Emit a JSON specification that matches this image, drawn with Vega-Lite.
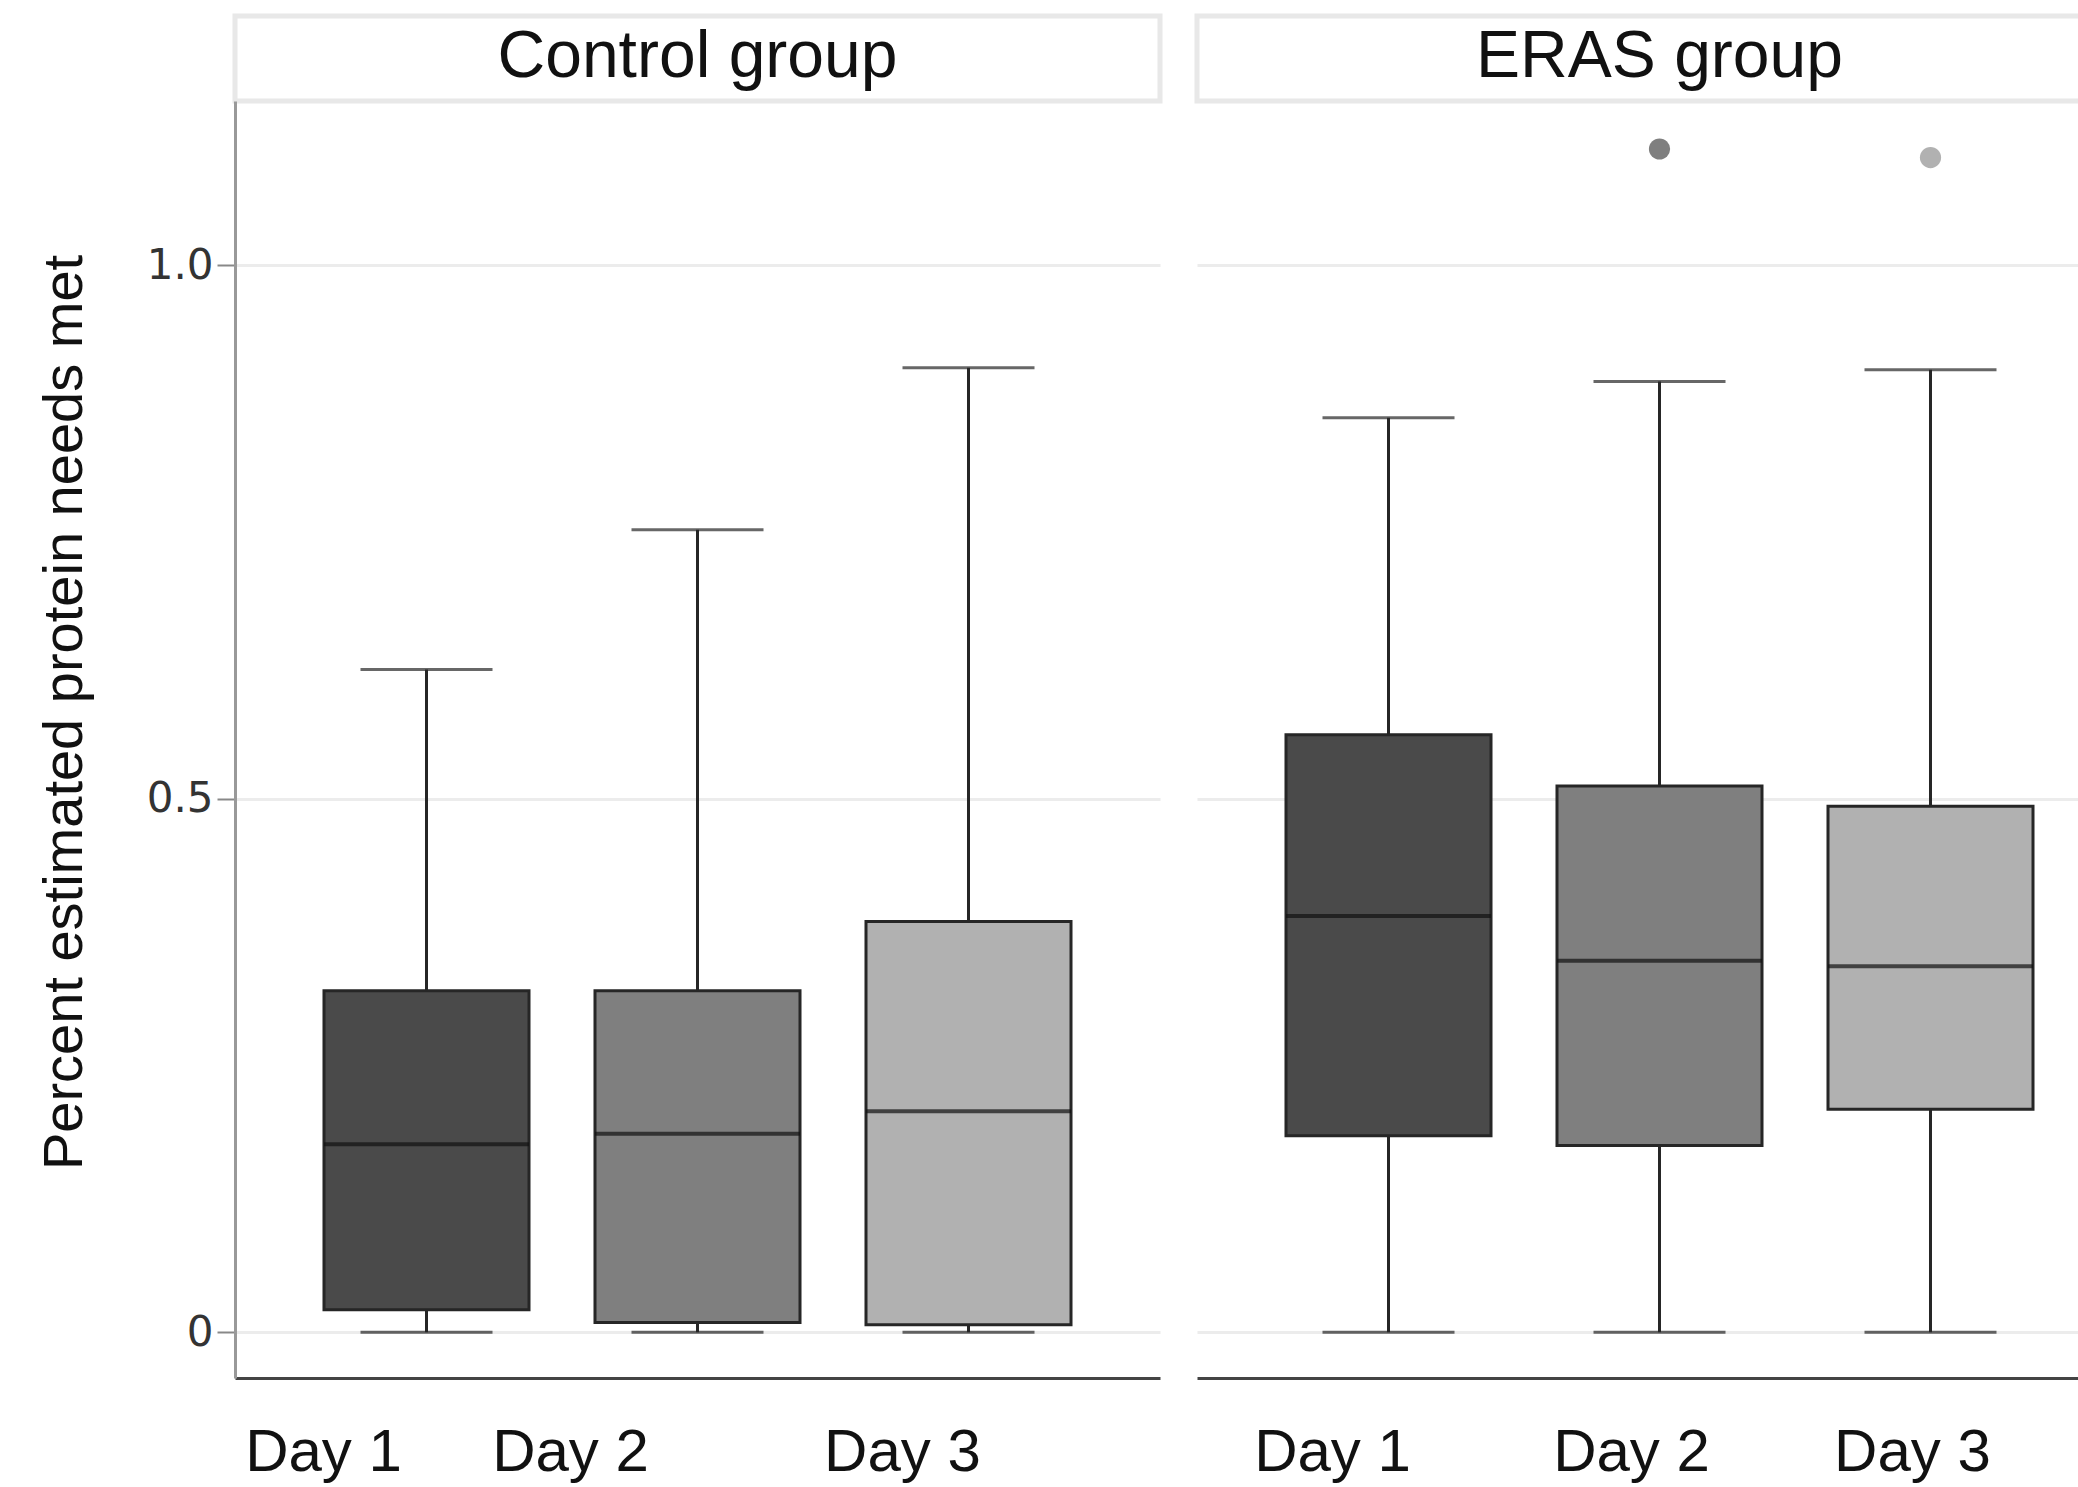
{
  "$schema": "https://vega.github.io/schema/vega-lite/v6.json",
  "background": "white",
  "padding": {"left": 36, "top": 13, "right": 0, "bottom": 5},
  "config": {"view": {"stroke": null}, "font": "Liberation Sans"},
  "datasets": {
    "stats": [
      {"group": "Control group", "day": "Day 1", "low": 0, "q1": 0.021, "median": 0.176, "q3": 0.32, "high": 0.621},
      {"group": "Control group", "day": "Day 2", "low": 0, "q1": 0.009, "median": 0.186, "q3": 0.32, "high": 0.752},
      {"group": "Control group", "day": "Day 3", "low": 0, "q1": 0.007, "median": 0.207, "q3": 0.385, "high": 0.904},
      {"group": "ERAS group", "day": "Day 1", "low": 0, "q1": 0.184, "median": 0.39, "q3": 0.56, "high": 0.857},
      {"group": "ERAS group", "day": "Day 2", "low": 0, "q1": 0.175, "median": 0.348, "q3": 0.512, "high": 0.891},
      {"group": "ERAS group", "day": "Day 3", "low": 0, "q1": 0.209, "median": 0.343, "q3": 0.493, "high": 0.902}
    ],
    "outliers": [
      {"group": "ERAS group", "day": "Day 2", "value": 1.109},
      {"group": "ERAS group", "day": "Day 3", "value": 1.101}
    ],
    "groups": [
      {"group": "Control group"},
      {"group": "ERAS group"}
    ]
  },
  "columns": 2,
  "align": "each",
  "bounds": "flush",
  "spacing": {"row": 0, "column": 37},
  "concat": [
    {
      "width": 925, "height": 85,
      "data": {"name": "groups"},
      "transform": [{"filter": "datum.group === 'Control group'"}],
      "view": {"stroke": "#e8e8e8", "strokeWidth": 5},
      "mark": {"type": "text", "fontSize": 66, "color": "#111", "baseline": "middle", "dy": -2},
      "encoding": {"text": {"field": "group"}}
    },
    {
      "width": 925, "height": 85,
      "data": {"name": "groups"},
      "transform": [{"filter": "datum.group === 'ERAS group'"}],
      "view": {"stroke": "#e8e8e8", "strokeWidth": 5},
      "mark": {"type": "text", "fontSize": 66, "color": "#111", "baseline": "middle", "dy": -2},
      "encoding": {"text": {"field": "group"}}
    },
    {
      "width": 925, "height": 1277,
      "layer": [
        {
          "data": {"name": "stats"},
          "transform": [{"filter": "datum.group === 'Control group'"}],
          "mark": {"type": "rule", "color": "#262626", "strokeWidth": 3},
          "encoding": {
            "x": {"field": "day", "type": "nominal", "sort": ["Day 1", "Day 2", "Day 3"],
              "scale": {"paddingInner": 0.2435, "paddingOuter": 0.3284},
              "axis": {"title": null, "labelAngle": 0, "labelFontSize": 60, "labelColor": "#111", "labelPadding": 45, "ticks": false, "tickSize": 0, "domainColor": "#444", "domainWidth": 3, "grid": false,
                "labelOffset": {"condition": [{"test": "datum.value === 'Day 1'", "value": -103}, {"test": "datum.value === 'Day 2'", "value": -127}], "value": -66}}},
            "y": {"field": "low", "type": "quantitative",
              "scale": {"domain": [-0.043, 1.154], "nice": false, "zero": false},
              "axis": {"values": [0, 0.5, 1], "labelExpr": "datum.value == 0 ? '0' : format(datum.value, '.1f')",
                "title": "Percent estimated protein needs met", "titleFontSize": 56, "titleFontWeight": "normal", "titleColor": "#111", "titlePadding": 53, "titleY": 611,
                "labelFont": "DejaVu Sans", "labelFontSize": 42, "labelColor": "#333", "labelPadding": 4, "tickSize": 18, "tickColor": "#888", "tickWidth": 2,
                "domainColor": "#999", "domainWidth": 3, "grid": true, "gridColor": "#ececec", "gridWidth": 3}},
            "y2": {"field": "high"}
          }
        },
        {
          "data": {"name": "stats"},
          "transform": [{"filter": "datum.group === 'Control group'"}],
          "mark": {"type": "bar", "stroke": "#262626", "strokeWidth": 3},
          "encoding": {
            "x": {"field": "day", "type": "nominal", "sort": ["Day 1", "Day 2", "Day 3"]},
            "y": {"field": "q1", "type": "quantitative"},
            "y2": {"field": "q3"},
            "color": {"field": "day", "type": "nominal", "scale": {"domain": ["Day 1", "Day 2", "Day 3"], "range": ["#4a4a4a", "#7f7f7f", "#b1b1b1"]}, "legend": null}
          }
        },
        {
          "data": {"name": "stats"},
          "transform": [{"filter": "datum.group === 'Control group'"}],
          "mark": {"type": "tick", "color": "#111", "size": 205, "thickness": 4},
          "encoding": {
            "x": {"field": "day", "type": "nominal", "sort": ["Day 1", "Day 2", "Day 3"]},
            "y": {"field": "median", "type": "quantitative"}
          }
        },
        {
          "data": {"name": "stats"},
          "transform": [{"filter": "datum.group === 'Control group'"}],
          "mark": {"type": "tick", "color": "#262626", "size": 132, "thickness": 3},
          "encoding": {
            "x": {"field": "day", "type": "nominal", "sort": ["Day 1", "Day 2", "Day 3"]},
            "y": {"field": "low", "type": "quantitative"}
          }
        },
        {
          "data": {"name": "stats"},
          "transform": [{"filter": "datum.group === 'Control group'"}],
          "mark": {"type": "tick", "color": "#262626", "size": 132, "thickness": 3},
          "encoding": {
            "x": {"field": "day", "type": "nominal", "sort": ["Day 1", "Day 2", "Day 3"]},
            "y": {"field": "high", "type": "quantitative"}
          }
        }
      ]
    },
    {
      "width": 925, "height": 1277,
      "layer": [
        {
          "data": {"name": "stats"},
          "transform": [{"filter": "datum.group === 'ERAS group'"}],
          "mark": {"type": "rule", "color": "#262626", "strokeWidth": 3},
          "encoding": {
            "x": {"field": "day", "type": "nominal", "sort": ["Day 1", "Day 2", "Day 3"],
              "scale": {"paddingInner": 0.2435, "paddingOuter": 0.3284},
              "axis": {"title": null, "labelAngle": 0, "labelFontSize": 60, "labelColor": "#111", "labelPadding": 45, "ticks": false, "tickSize": 0, "domainColor": "#444", "domainWidth": 3, "grid": false,
                "labelOffset": {"condition": [{"test": "datum.value === 'Day 1'", "value": -56}, {"test": "datum.value === 'Day 2'", "value": -28}], "value": -18}}},
            "y": {"field": "low", "type": "quantitative",
              "scale": {"domain": [-0.043, 1.154], "nice": false, "zero": false},
              "axis": {"values": [0, 0.5, 1], "title": null, "labels": false, "ticks": false, "domain": false, "grid": true, "gridColor": "#ececec", "gridWidth": 3}},
            "y2": {"field": "high"}
          }
        },
        {
          "data": {"name": "stats"},
          "transform": [{"filter": "datum.group === 'ERAS group'"}],
          "mark": {"type": "bar", "stroke": "#262626", "strokeWidth": 3},
          "encoding": {
            "x": {"field": "day", "type": "nominal", "sort": ["Day 1", "Day 2", "Day 3"]},
            "y": {"field": "q1", "type": "quantitative"},
            "y2": {"field": "q3"},
            "color": {"field": "day", "type": "nominal", "scale": {"domain": ["Day 1", "Day 2", "Day 3"], "range": ["#4a4a4a", "#7f7f7f", "#b1b1b1"]}, "legend": null}
          }
        },
        {
          "data": {"name": "stats"},
          "transform": [{"filter": "datum.group === 'ERAS group'"}],
          "mark": {"type": "tick", "color": "#111", "size": 205, "thickness": 4},
          "encoding": {
            "x": {"field": "day", "type": "nominal", "sort": ["Day 1", "Day 2", "Day 3"]},
            "y": {"field": "median", "type": "quantitative"}
          }
        },
        {
          "data": {"name": "stats"},
          "transform": [{"filter": "datum.group === 'ERAS group'"}],
          "mark": {"type": "tick", "color": "#262626", "size": 132, "thickness": 3},
          "encoding": {
            "x": {"field": "day", "type": "nominal", "sort": ["Day 1", "Day 2", "Day 3"]},
            "y": {"field": "low", "type": "quantitative"}
          }
        },
        {
          "data": {"name": "stats"},
          "transform": [{"filter": "datum.group === 'ERAS group'"}],
          "mark": {"type": "tick", "color": "#262626", "size": 132, "thickness": 3},
          "encoding": {
            "x": {"field": "day", "type": "nominal", "sort": ["Day 1", "Day 2", "Day 3"]},
            "y": {"field": "high", "type": "quantitative"}
          }
        },
        {
          "data": {"name": "outliers"},
          "transform": [{"filter": "datum.group === 'ERAS group'"}],
          "mark": {"type": "point", "filled": true, "size": 450, "opacity": 1},
          "encoding": {
            "x": {"field": "day", "type": "nominal", "sort": ["Day 1", "Day 2", "Day 3"]},
            "y": {"field": "value", "type": "quantitative"},
            "color": {"field": "day", "type": "nominal", "scale": {"domain": ["Day 1", "Day 2", "Day 3"], "range": ["#4a4a4a", "#7f7f7f", "#b1b1b1"]}, "legend": null}
          }
        }
      ]
    }
  ]
}
